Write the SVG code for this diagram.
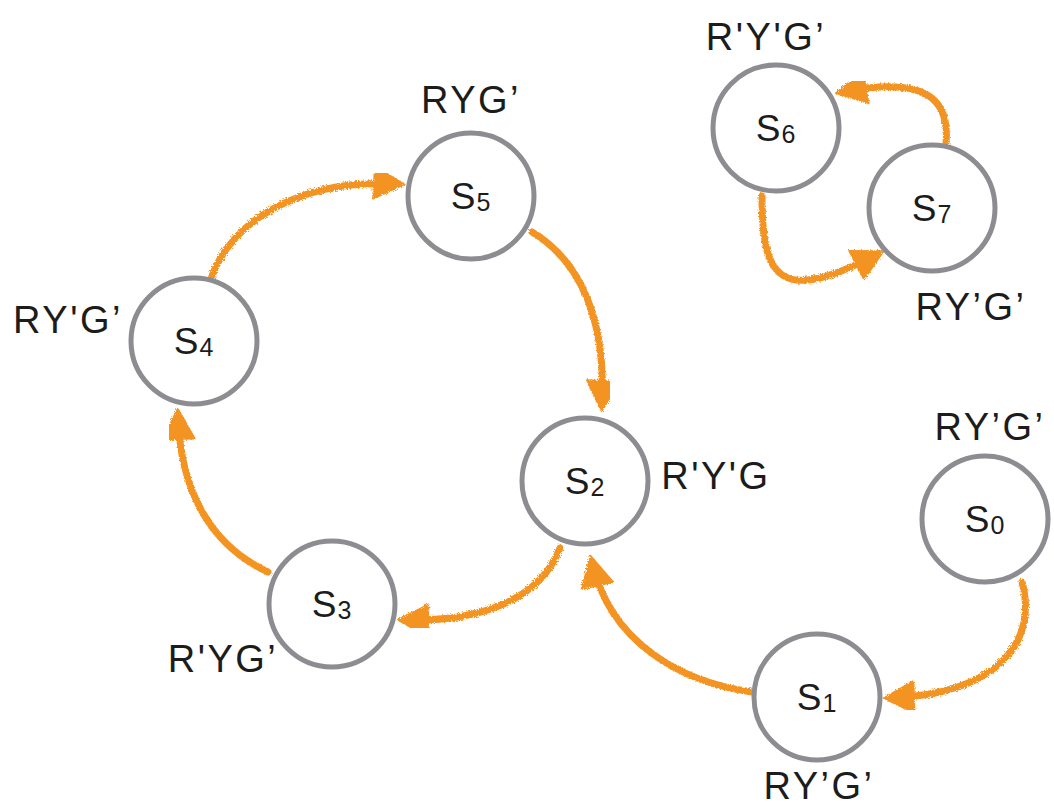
<svg xmlns="http://www.w3.org/2000/svg" width="1054" height="808" viewBox="0 0 1054 808">
  <style>
    .state { fill: #ffffff; stroke: #8c8c91; stroke-width: 5; }
    .name { font-family: "Liberation Sans", Arial, sans-serif; font-size: 37px; fill: #1c1c1c; text-anchor: middle; letter-spacing: 1px; }
    .sub { font-size: 25px; }
    .out { font-family: "Liberation Sans", Arial, sans-serif; font-size: 38px; fill: #1c1c1c; text-anchor: middle; letter-spacing: 2.5px; }
    .edge { fill: none; stroke: #f39424; stroke-width: 7; stroke-linecap: round; marker-end: url(#head); filter: url(#rough); }
  </style>
  <defs>
    <filter id="rough" x="-10%" y="-10%" width="120%" height="120%">
      <feTurbulence type="fractalNoise" baseFrequency="0.7" numOctaves="2" seed="3" result="n"/>
      <feDisplacementMap in="SourceGraphic" in2="n" scale="4"/>
    </filter>
    <marker id="head" markerUnits="userSpaceOnUse" markerWidth="40" markerHeight="40" refX="26" refY="18" orient="auto">
      <path d="M2,2 L32,18 L2,34 Z" fill="#f39424" stroke="#f39424" stroke-width="2" stroke-linejoin="round"/>
    </marker>
  </defs>

  <g id="connectors">
    <path class="edge" d="M210,282 C228,222 300,178 398,184"/>
    <path class="edge" d="M532,232 C582,262 606,322 602,405"/>
    <path class="edge" d="M560,548 C540,600 480,622 404,620"/>
    <path class="edge" d="M268,572 C210,545 180,490 178,415"/>
    <path class="edge" d="M752,692 C680,682 610,642 592,562"/>
    <path class="edge" d="M1022,582 C1038,640 1000,694 890,698"/>
    <path class="edge" d="M762,196 C762,280 780,305 878,254"/>
    <path class="edge" d="M946,143 C950,98 925,76 842,92"/>
  </g>

  <g id="S0">
    <circle class="state" cx="985" cy="519" r="63"/>
    <text class="name" x="985" y="532">S<tspan class="sub" dy="2">0</tspan></text>
    <text class="out" x="990" y="440">RY’G’</text>
  </g>
  <g id="S1">
    <circle class="state" cx="817" cy="697" r="63"/>
    <text class="name" x="817" y="710">S<tspan class="sub" dy="2">1</tspan></text>
    <text class="out" x="819" y="799">RY’G’</text>
  </g>
  <g id="S2">
    <circle class="state" cx="585" cy="481" r="63"/>
    <text class="name" x="585" y="494">S<tspan class="sub" dy="2">2</tspan></text>
    <text class="out" x="716" y="489">R'Y'G</text>
  </g>
  <g id="S3">
    <circle class="state" cx="332" cy="604" r="63"/>
    <text class="name" x="332" y="617">S<tspan class="sub" dy="2">3</tspan></text>
    <text class="out" x="223" y="672">R'YG’</text>
  </g>
  <g id="S4">
    <circle class="state" cx="194" cy="341" r="63"/>
    <text class="name" x="194" y="354">S<tspan class="sub" dy="2">4</tspan></text>
    <text class="out" x="68" y="333">RY'G’</text>
  </g>
  <g id="S5">
    <circle class="state" cx="471" cy="196" r="63"/>
    <text class="name" x="471" y="209">S<tspan class="sub" dy="2">5</tspan></text>
    <text class="out" x="471" y="113">RYG’</text>
  </g>
  <g id="S6">
    <circle class="state" cx="776" cy="128" r="63"/>
    <text class="name" x="776" y="141">S<tspan class="sub" dy="2">6</tspan></text>
    <text class="out" x="766" y="50">R'Y'G’</text>
  </g>
  <g id="S7">
    <circle class="state" cx="932" cy="208" r="63"/>
    <text class="name" x="932" y="221">S<tspan class="sub" dy="2">7</tspan></text>
    <text class="out" x="971" y="320">RY’G’</text>
  </g>
</svg>
